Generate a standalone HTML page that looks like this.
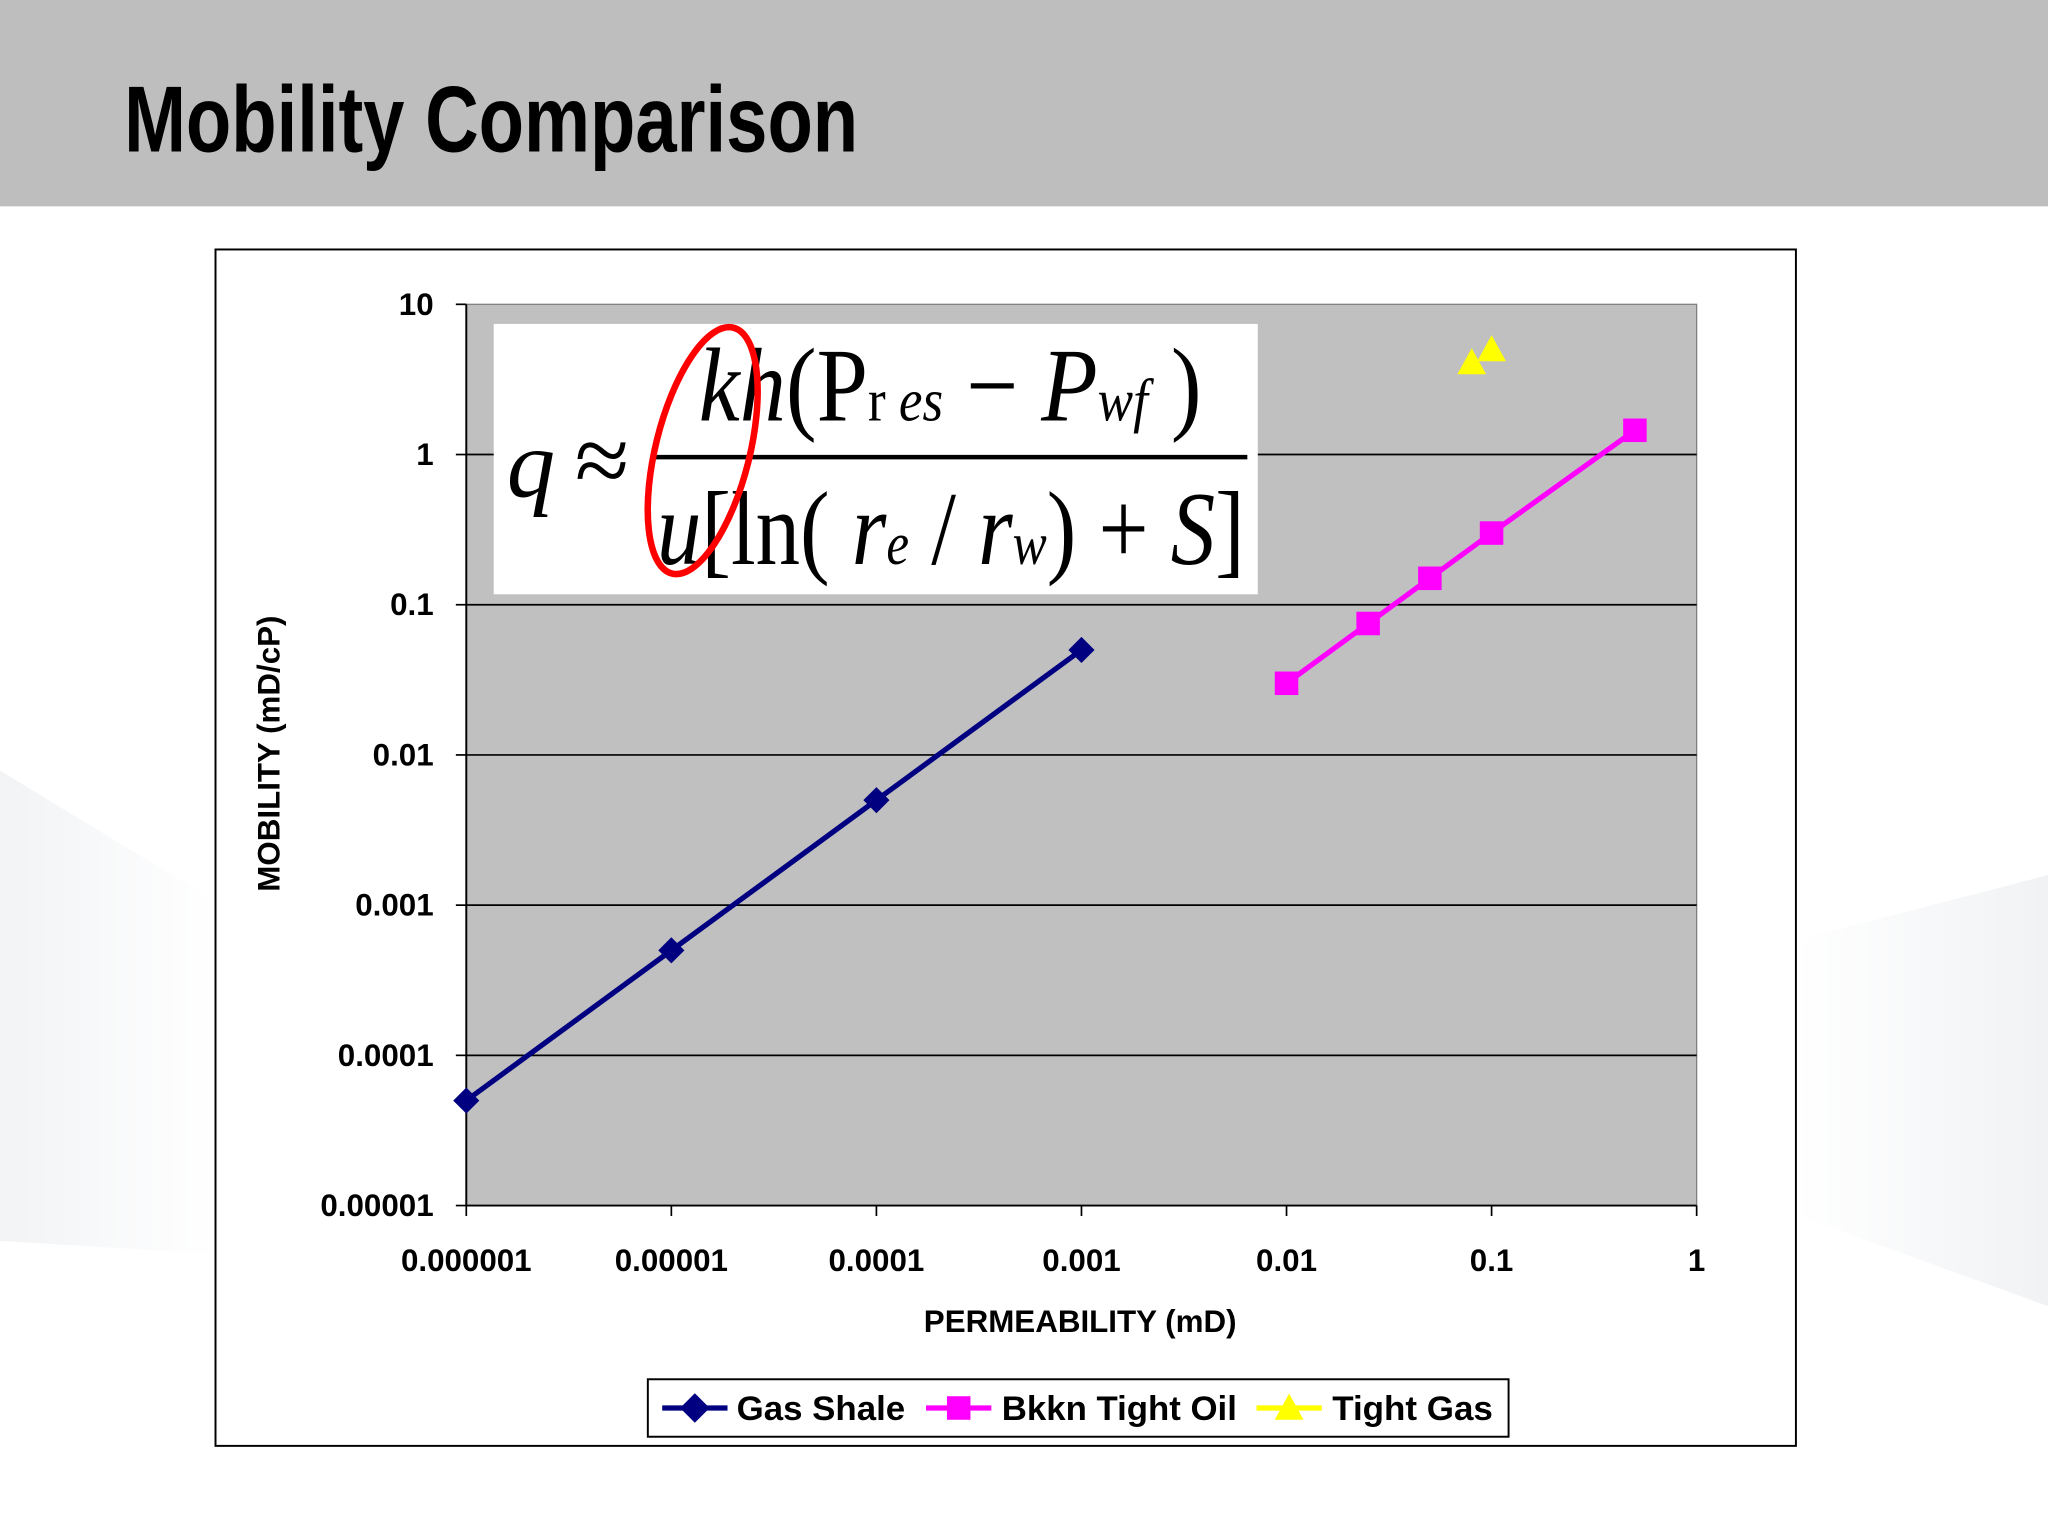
<!DOCTYPE html>
<html><head><meta charset="utf-8"><style>
html,body{margin:0;padding:0;background:#fff;}
svg{display:block;}
text{font-family:"Liberation Sans",sans-serif;}
.tk{font-weight:bold;font-size:24px;fill:#000;}
.fm{font-family:"Liberation Serif",serif;fill:#000;}
</style></head><body>
<svg id="chart" width="2048" height="1536" viewBox="0 0 1568 1176" xmlns="http://www.w3.org/2000/svg">
<defs>
<linearGradient id="bgl" x1="0" x2="1"><stop offset="0" stop-color="#f1f3f5"/><stop offset="1" stop-color="#fff"/></linearGradient>
<linearGradient id="bgr" x1="1" x2="0"><stop offset="0" stop-color="#f0f2f4"/><stop offset="1" stop-color="#fff"/></linearGradient>
</defs>
<rect x="0" y="0" width="1568" height="1176" fill="#fff"/>
<polygon points="0,590 165,690 165,960 0,950" fill="url(#bgl)"/>
<polygon points="1375,720 1568,670 1568,1000 1375,930" fill="url(#bgr)"/>
<rect x="0" y="0" width="1568" height="158" fill="#bebebe"/>
<text x="95" y="116" font-size="72" font-weight="bold" textLength="562" lengthAdjust="spacingAndGlyphs">Mobility Comparison</text>
<rect x="165" y="191" width="1210" height="916" fill="#fff" stroke="#000" stroke-width="1.5"/>
<rect x="357" y="233" width="942" height="690" fill="#c0c0c0" stroke="#808080" stroke-width="1"/>
<g id="grid"></g>
<g id="axes"></g>
<g id="formula">
<rect x="378" y="248" width="585" height="207" fill="#fff"/>
<text class="fm" x="388" y="380" font-size="74" font-style="italic">q</text>
<text class="fm" x="440" y="378" font-size="76">≈</text>
<line x1="500" y1="350" x2="955" y2="350" stroke="#000" stroke-width="3.5"/>
<text class="fm" x="535" y="322" font-size="80" textLength="385" lengthAdjust="spacingAndGlyphs"><tspan font-style="italic">kh</tspan>(P<tspan font-size="46">r </tspan><tspan font-size="46" font-style="italic">es</tspan> − <tspan font-style="italic">P</tspan><tspan font-size="46" font-style="italic">wf</tspan> )</text>
<text class="fm" x="503" y="432" font-size="80" textLength="450" lengthAdjust="spacingAndGlyphs"><tspan font-style="italic">u</tspan>[ln( <tspan font-style="italic">r</tspan><tspan font-size="46" font-style="italic">e</tspan> / <tspan font-style="italic">r</tspan><tspan font-size="46" font-style="italic">w</tspan>) + <tspan font-style="italic">S</tspan>]</text>
<ellipse cx="538" cy="345" rx="36" ry="97" transform="rotate(14 538 345)" fill="none" stroke="#ff0000" stroke-width="5"/>
</g>
<g id="series"></g>
<text class="tk" x="0" y="0" transform="translate(214,577) rotate(-90)" text-anchor="middle" font-size="23">MOBILITY (mD/cP)</text>
<text class="tk" x="827" y="1020" text-anchor="middle" font-size="23">PERMEABILITY (mD)</text>
<g>
<rect x="496" y="1056" width="659" height="44" fill="#fff" stroke="#000" stroke-width="1.5"/>
<g>
<line x1="507" y1="1078" x2="557" y2="1078" stroke="#000080" stroke-width="4"/>
<rect x="524" y="1070" width="16" height="16" fill="#000080" transform="rotate(45 532 1078)"/>
<text x="564" y="1087" font-size="26" font-weight="bold" textLength="129" lengthAdjust="spacingAndGlyphs">Gas Shale</text></g>
<g>
<line x1="709" y1="1078" x2="759" y2="1078" stroke="#ff00ff" stroke-width="4"/>
<rect x="725" y="1069" width="18" height="18" fill="#ff00ff"/>
<text x="767" y="1087" font-size="26" font-weight="bold" textLength="180" lengthAdjust="spacingAndGlyphs">Bkkn Tight Oil</text></g>
<g>
<line x1="962" y1="1078" x2="1012" y2="1078" stroke="#ffff00" stroke-width="4"/>
<polygon points="987,1067 998,1087 976,1087" fill="#ffff00"/>
<text x="1020" y="1087" font-size="26" font-weight="bold" textLength="123" lengthAdjust="spacingAndGlyphs">Tight Gas</text></g>
</g>
</svg>
<script>
const xTicks=[0.000001,0.00001,0.0001,0.001,0.01,0.1,1];
const xTickLabels=["0.000001","0.00001","0.0001","0.001","0.01","0.1","1"];
const yTicks=[0.00001,0.0001,0.001,0.01,0.1,1,10];
const yTickLabels=["0.00001","0.0001","0.001","0.01","0.1","1","10"];
const gasShaleX=[0.000001,0.00001,0.0001,0.001];
const gasShaleY=[0.00005,0.0005,0.005,0.05];
const bakkenX=[0.01,0.025,0.05,0.1,0.5];
const bakkenY=[0.03,0.075,0.15,0.3,1.45];
const tightGasX=[0.08,0.1];
const tightGasY=[4.1,5];
const NS="http://www.w3.org/2000/svg";
const X0=357,X1=1299,Y0=923,Y1=233;
function sx(v){return X0+(Math.log10(v)+6)/6*(X1-X0);}
function sy(v){return Y0-(Math.log10(v)+5)/6*(Y0-Y1);}
function mk(tag,attrs,parent){const e=document.createElementNS(NS,tag);for(const k in attrs)e.setAttribute(k,attrs[k]);parent.appendChild(e);return e;}
const grid=document.getElementById('grid'),axes=document.getElementById('axes'),series=document.getElementById('series');
yTicks.forEach((v,i)=>{const y=sy(v);
 if(i>0&&i<yTicks.length-1){const g=mk('line',{x1:X0,x2:X1,y1:y,y2:y,stroke:'#000','stroke-width':1.3},grid);
 
 }
 const t=mk('line',{x1:X0-8,x2:X0,y1:y,y2:y,stroke:'#000','stroke-width':1.3},axes);
 
 
 const l=mk('text',{x:332,y:y+8,'text-anchor':'end',class:'tk'},axes);l.textContent=yTickLabels[i];
 
 
});
xTicks.forEach((v,i)=>{const x=sx(v);
 const t=mk('line',{x1:x,x2:x,y1:Y0,y2:Y0+8,stroke:'#000','stroke-width':1.3},axes);
 
 
 const l=mk('text',{x:x,y:973,'text-anchor':'middle',class:'tk'},axes);l.textContent=xTickLabels[i];
 
 
});
const ax=mk('path',{d:`M${X0},${Y1}V${Y0}H${X1}`,fill:'none',stroke:'#000','stroke-width':1.5},axes);


function drawSeries(xs,ys,color,shape,name,line){
 if(line){const p=mk('polyline',{points:xs.map((x,i)=>sx(x)+','+sy(ys[i])).join(' '),fill:'none',stroke:color,'stroke-width':4},series);
 
 }
 xs.forEach((x,i)=>{const cx=sx(x),cy=sy(ys[i]);let m;
  if(shape==='diamond')m=mk('polygon',{points:`${cx},${cy-10} ${cx+10},${cy} ${cx},${cy+10} ${cx-10},${cy}`,fill:color},series);
  else if(shape==='square')m=mk('rect',{x:cx-9,y:cy-9,width:18,height:18,fill:color},series);
  else m=mk('polygon',{points:`${cx},${cy-11} ${cx+11},${cy+9} ${cx-11},${cy+9}`,fill:color},series);
  
  
 });
}
drawSeries(gasShaleX,gasShaleY,'#000080','diamond','gas-shale',true);
drawSeries(bakkenX,bakkenY,'#ff00ff','square','bkkn-tight-oil',true);
drawSeries(tightGasX,tightGasY,'#ffff00','triangle','tight-gas',false);
</script>
</body></html>
